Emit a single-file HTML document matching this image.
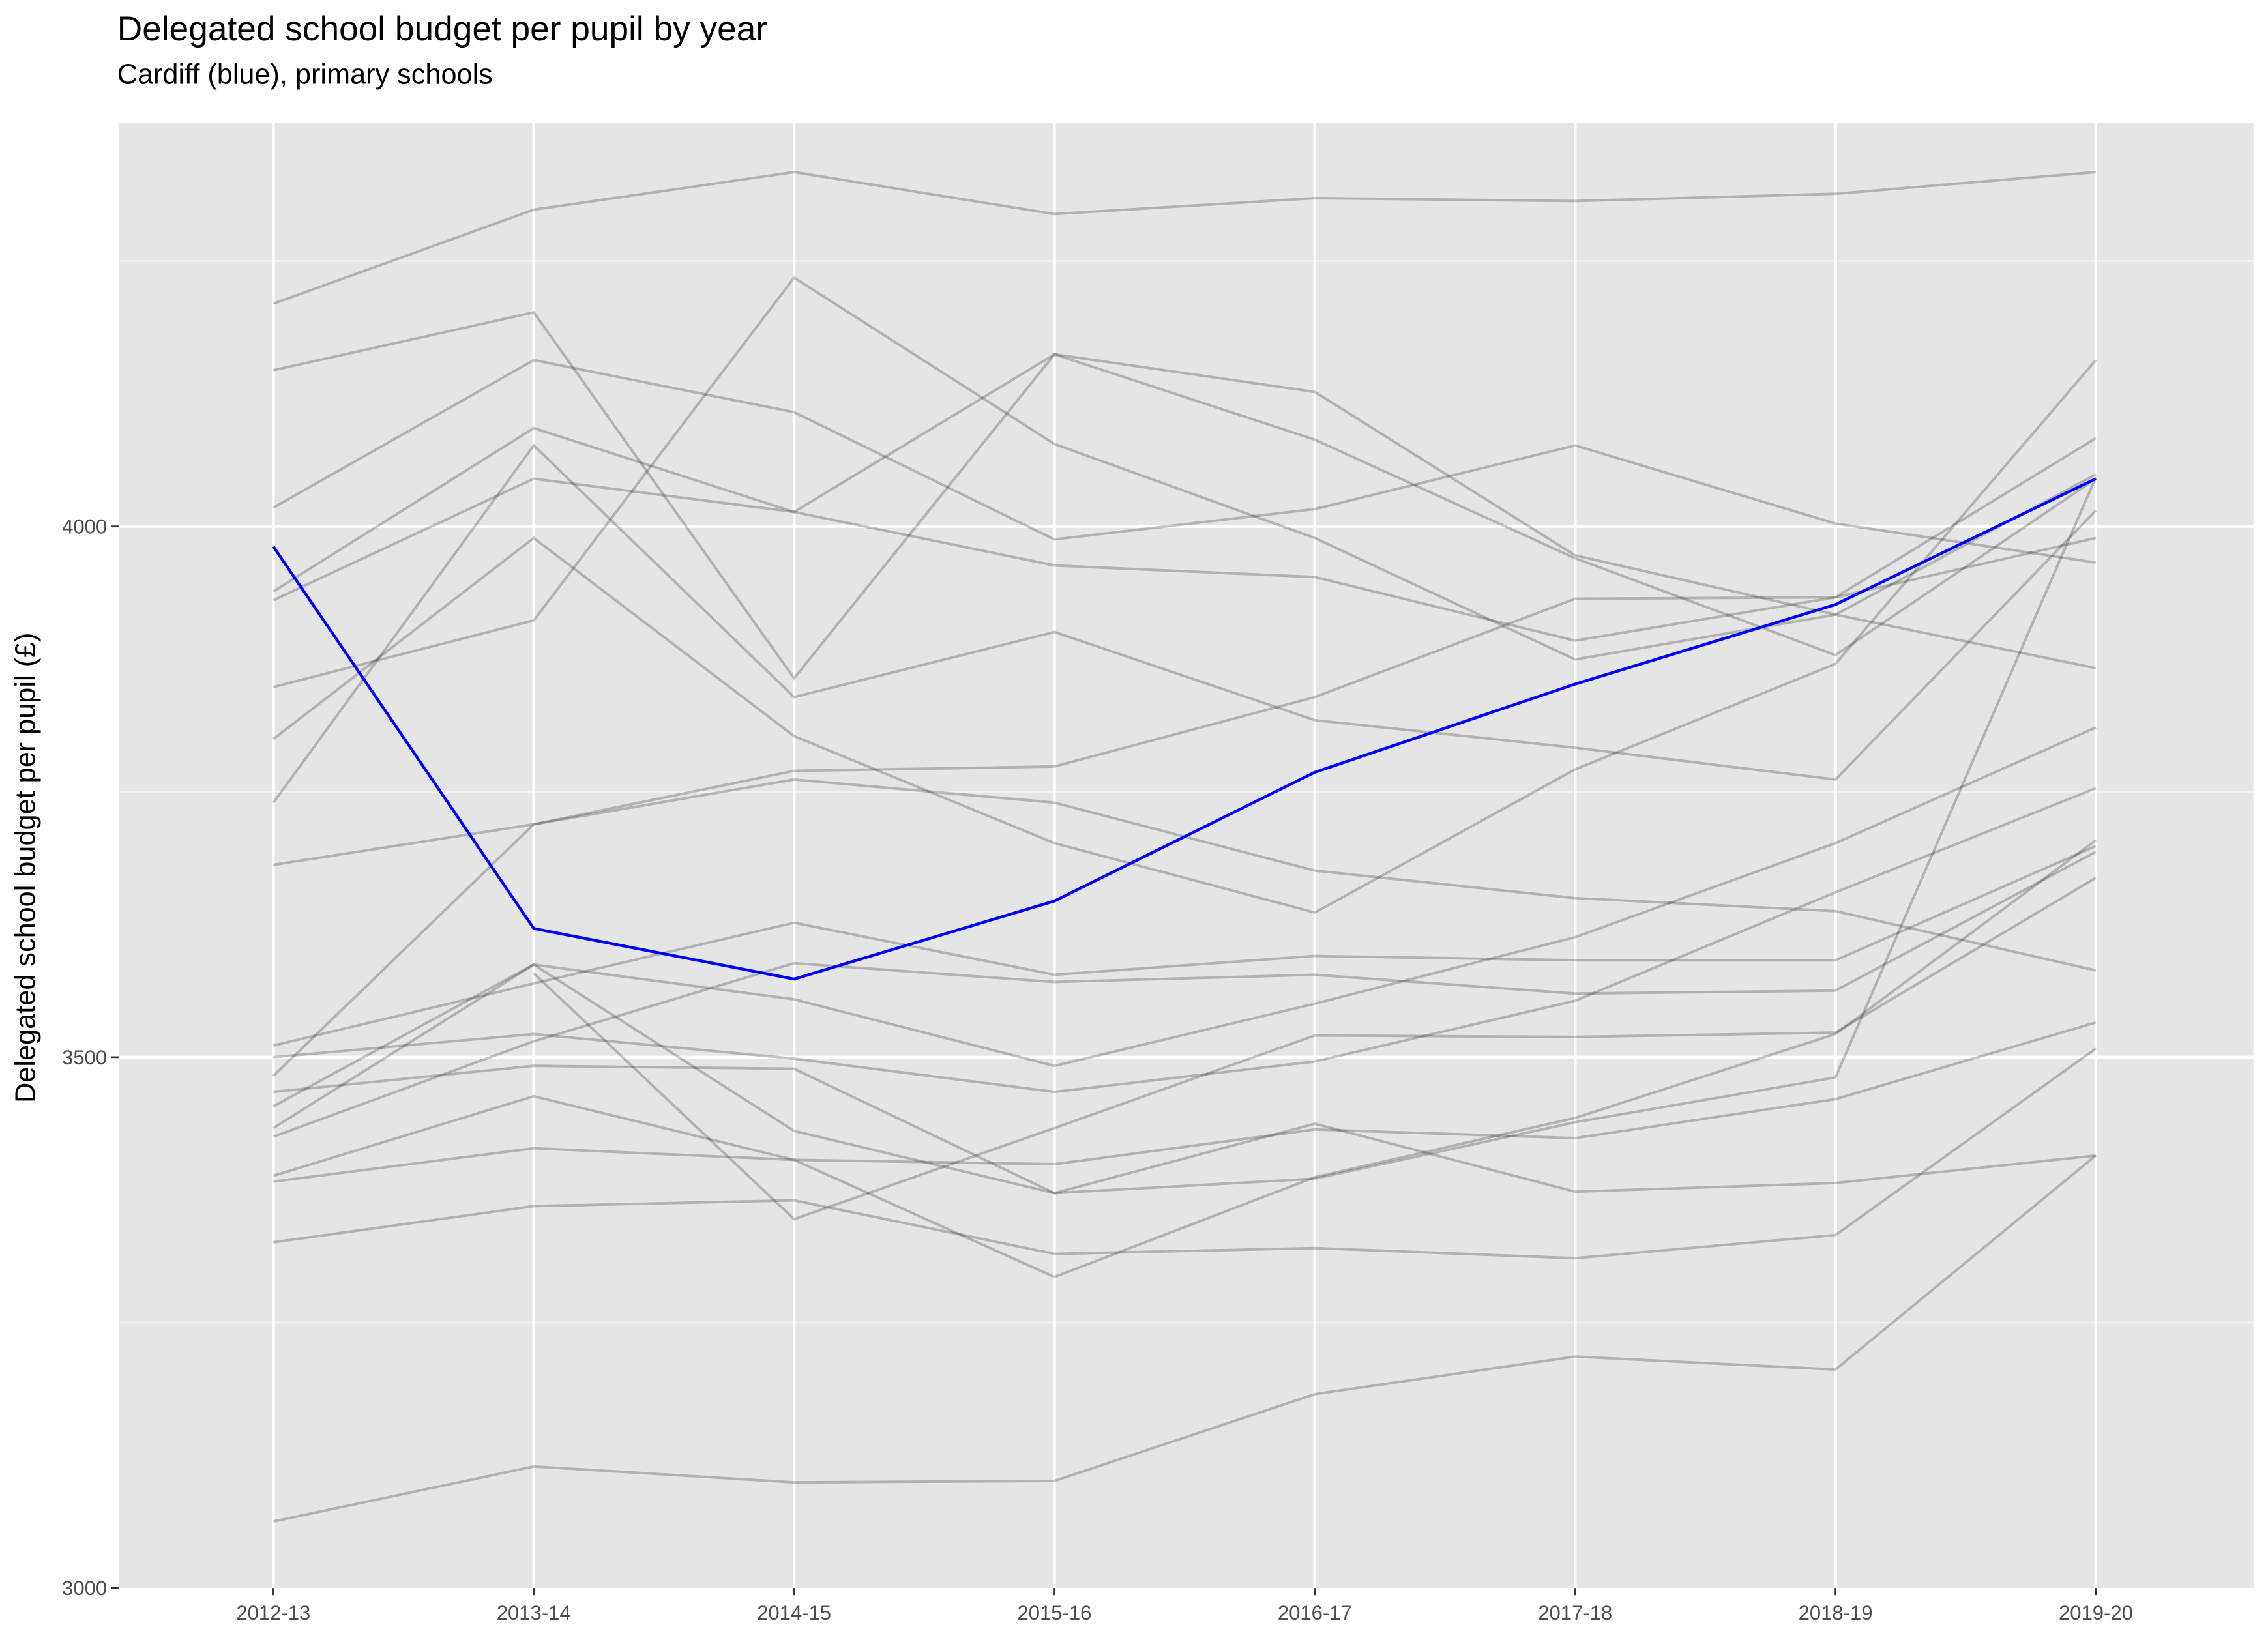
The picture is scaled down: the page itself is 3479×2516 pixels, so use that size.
<!DOCTYPE html>
<html><head><meta charset="utf-8"><style>
html,body{margin:0;padding:0;background:#fff;}
svg{display:block;}
text{font-family:"Liberation Sans",Arial,sans-serif;}
</style></head><body>
<svg width="3479" height="2516" viewBox="0 0 1568 1134" xmlns="http://www.w3.org/2000/svg">
<rect width="1568" height="1134" fill="#fff"/>
<text x="81" y="28" font-size="24" fill="#000">Delegated school budget per pupil by year</text>
<text x="81" y="58" font-size="19.5" fill="#000">Cardiff (blue), primary schools</text>
<rect x="82" y="85" width="1476" height="1013" fill="#e5e5e5"/>
<g stroke="#f2f2f2" stroke-width="1">
<line x1="82" x2="1558" y1="914.5" y2="914.5"/>
<line x1="82" x2="1558" y1="547.5" y2="547.5"/>
<line x1="82" x2="1558" y1="180.5" y2="180.5"/>
</g>
<g stroke="#fff" stroke-width="2">
<line x1="82" x2="1558" y1="731" y2="731"/>
<line x1="82" x2="1558" y1="364" y2="364"/>
<line x1="189" x2="189" y1="85" y2="1098"/>
<line x1="369" x2="369" y1="85" y2="1098"/>
<line x1="549" x2="549" y1="85" y2="1098"/>
<line x1="729" x2="729" y1="85" y2="1098"/>
<line x1="909" x2="909" y1="85" y2="1098"/>
<line x1="1089" x2="1089" y1="85" y2="1098"/>
<line x1="1269" x2="1269" y1="85" y2="1098"/>
<line x1="1449" x2="1449" y1="85" y2="1098"/>
</g>
<g fill="none" stroke="#000" stroke-opacity="0.22" stroke-width="1.8">
<polyline points="189,210 369,145 549,119 729,148 909,137 1089,139 1269,134 1449,119"/>
<polyline points="189,256 369,216 549,469 729,245 909,304 1089,386 1269,453 1449,331"/>
<polyline points="189,351 369,249 549,285 729,373 909,352 1089,308 1269,362 1449,389"/>
<polyline points="189,409 369,296 549,354 729,245 909,271 1089,384 1269,425 1449,462"/>
<polyline points="189,415 369,331 549,354 729,391 909,399 1089,443 1269,413 1449,303"/>
<polyline points="189,475 369,429 549,192 729,307 909,372 1089,456 1269,425 1449,328"/>
<polyline points="189,511 369,372 549,509 729,583 909,631 1089,532 1269,459 1449,249"/>
<polyline points="189,555 369,308 549,482 729,437 909,498 1089,517 1269,539 1449,353"/>
<polyline points="189,598 369,570 549,539 729,555 909,602 1089,621 1269,630 1449,671"/>
<polyline points="189,744 369,570 549,533 729,530 909,482 1089,414 1269,413 1449,372"/>
<polyline points="189,723 369,680 549,638 729,674 909,661 1089,664 1269,664 1449,585"/>
<polyline points="189,731 369,715 549,732 729,755 909,734 1089,692 1269,617 1449,545"/>
<polyline points="189,755 369,737 549,739 729,825 909,815 1089,776 1269,745 1449,330"/>
<polyline points="189,765 369,667 549,691 729,737 909,694 1089,648 1269,583 1449,503"/>
<polyline points="189,780 369,667 549,782 729,825 909,777 1089,824 1269,818 1449,799"/>
<polyline points="189,786 369,720 549,666 729,679 909,674 1089,687 1269,685 1449,589"/>
<polyline points="189,813 369,758 549,802 729,805 909,781 1089,787 1269,760 1449,707"/>
<polyline points="189,817 369,794 549,802 729,883 909,814 1089,773 1269,715 1449,581"/>
<polyline points="189,859 369,834 549,830 729,867 909,863 1089,870 1269,854 1449,725"/>
<polyline points="189,1052 369,1014 549,1025 729,1024 909,964 1089,938 1269,947 1449,799"/>
<polyline points="369,673 549,843 729,780 909,716 1089,717 1269,714 1449,607"/>
</g>
<polyline fill="none" stroke="#0000ff" stroke-width="2" points="189,378 369,642 549,677 729,623 909,534 1089,473 1269,418 1449,331"/>
<g stroke="#333" stroke-width="1.2">
<line x1="77" x2="82" y1="1098" y2="1098"/>
<line x1="77" x2="82" y1="731" y2="731"/>
<line x1="77" x2="82" y1="364" y2="364"/>
<line x1="189" x2="189" y1="1098" y2="1103"/>
<line x1="369" x2="369" y1="1098" y2="1103"/>
<line x1="549" x2="549" y1="1098" y2="1103"/>
<line x1="729" x2="729" y1="1098" y2="1103"/>
<line x1="909" x2="909" y1="1098" y2="1103"/>
<line x1="1089" x2="1089" y1="1098" y2="1103"/>
<line x1="1269" x2="1269" y1="1098" y2="1103"/>
<line x1="1449" x2="1449" y1="1098" y2="1103"/>
</g>
<g font-size="14" fill="#4d4d4d" text-anchor="end">
<text x="74" y="1103">3000</text>
<text x="74" y="736">3500</text>
<text x="74" y="369">4000</text>
</g>
<g font-size="14" fill="#4d4d4d" text-anchor="middle">
<text x="189" y="1120">2012-13</text>
<text x="369" y="1120">2013-14</text>
<text x="549" y="1120">2014-15</text>
<text x="729" y="1120">2015-16</text>
<text x="909" y="1120">2016-17</text>
<text x="1089" y="1120">2017-18</text>
<text x="1269" y="1120">2018-19</text>
<text x="1449" y="1120">2019-20</text>
</g>
<text transform="translate(24,600) rotate(-90)" font-size="19.5" fill="#000" text-anchor="middle">Delegated school budget per pupil (£)</text>
</svg>
</body></html>
